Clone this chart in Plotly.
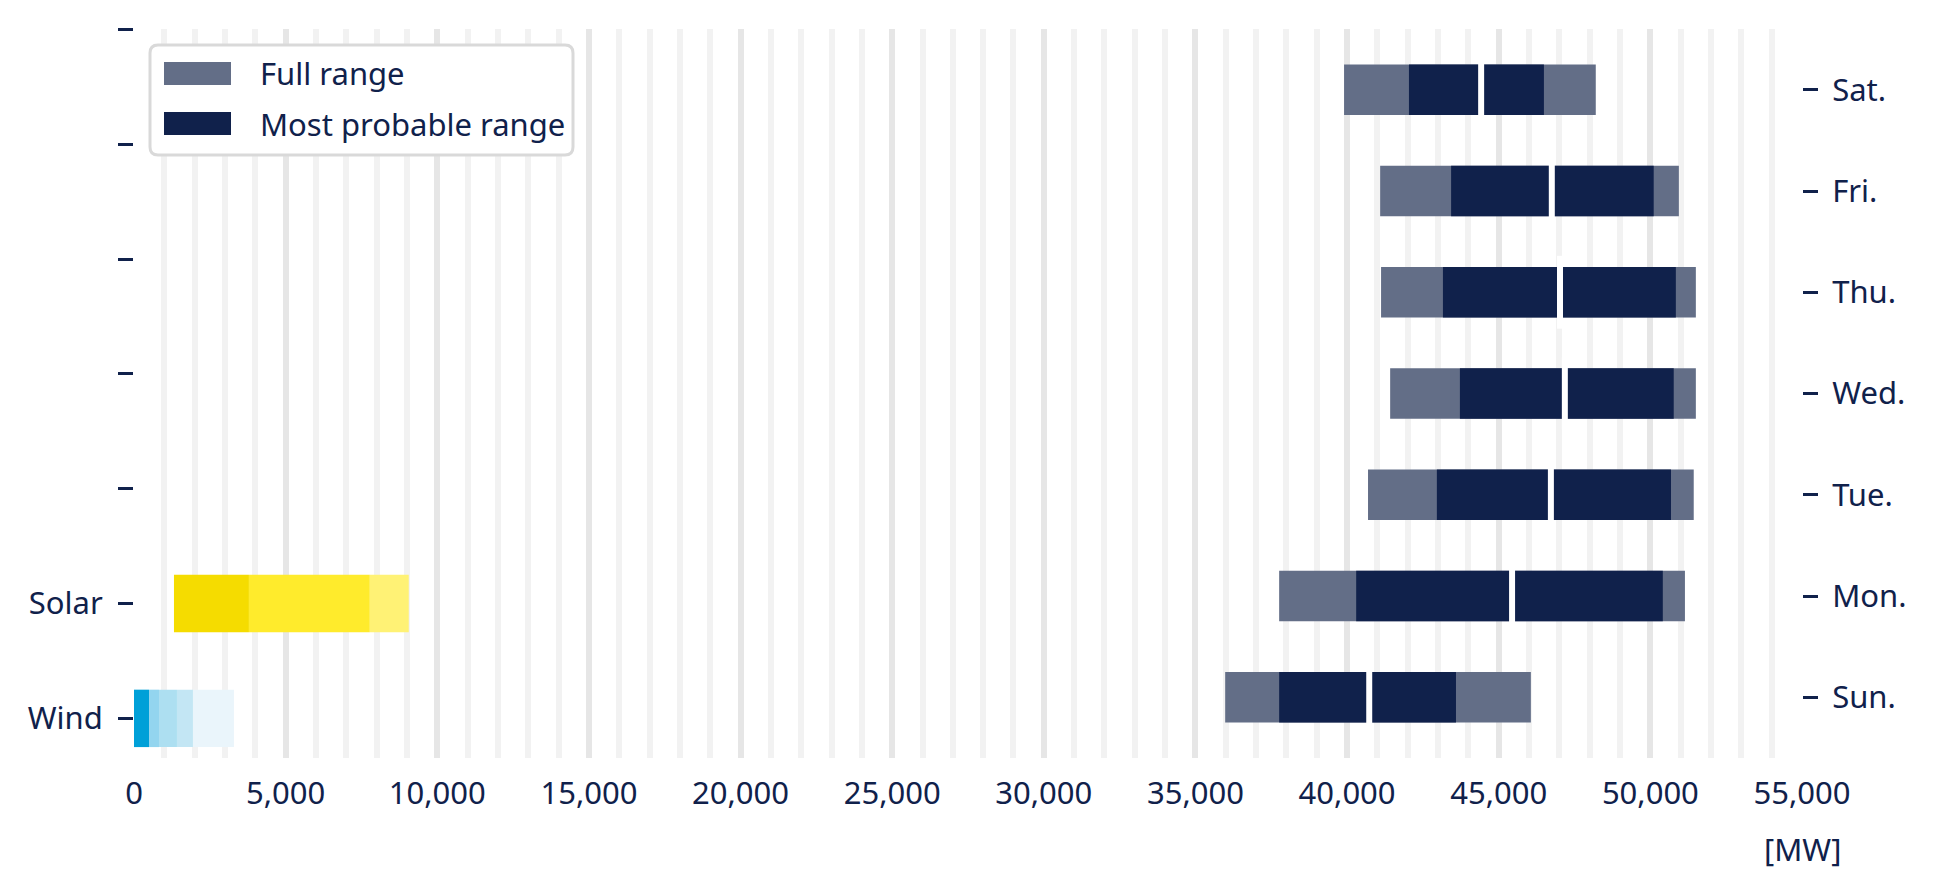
import plotly.graph_objects as go

# Forecast of the load per day [MW]
days = ["Sun.", "Mon.", "Tue.", "Wed.", "Thu.", "Fri.", "Sat."]
full_min = [35980, 37760, 40690, 41420, 41120, 41090, 39900]
full_max = [46060, 51140, 51430, 51500, 51500, 50940, 48200]
probable_min = [37760, 40300, 42960, 43720, 43160, 43430, 42040]
probable_max = [43590, 50410, 50680, 50770, 50840, 50110, 46490]
probable_mid = [40730, 45440, 46720, 47180, 47020, 46750, 44420]

# Renewables (left axis), band boundaries [MW]
sources = ["Wind", "Solar", "", "", "", "", ""]
wind_bounds = [0, 494, 824, 1417, 1944, 3295]
wind_colors = ["#00a0d8", "#93d5ef", "#addff1", "#c3e6f4", "#eaf5fb"]
solar_bounds = [1318, 3790, 7776, 9060]
solar_colors = ["#f5dc00", "#ffeb2c", "#fff275"]

legend_labels = ["Full range", "Most probable range"]

NAVY = "#10214b"
GRAY = "#636e87"
FONT = dict(family="Noto Sans", size=31, color=NAVY)

fig = go.Figure()

# Wind and solar bands
for idx, (bounds, colors) in enumerate([(wind_bounds, wind_colors),
                                        (solar_bounds, solar_colors)]):
    fig.add_trace(go.Bar(
        y=[idx] * len(colors),
        base=bounds[:-1],
        x=[b - a for a, b in zip(bounds[:-1], bounds[1:])],
        orientation="h",
        width=0.5,
        marker=dict(color=colors, line=dict(width=0)),
        showlegend=False,
        hoverinfo="skip",
    ))

# Load per day on the right axis
day_pos = list(range(len(days)))
fig.add_trace(go.Bar(
    name=legend_labels[0],
    y=day_pos,
    base=full_min,
    x=[b - a for a, b in zip(full_min, full_max)],
    orientation="h",
    width=0.5,
    marker=dict(color=GRAY, line=dict(width=0)),
    yaxis="y2",
    showlegend=False,
))
fig.add_trace(go.Bar(
    name=legend_labels[1],
    y=day_pos,
    base=probable_min,
    x=[b - a for a, b in zip(probable_min, probable_max)],
    orientation="h",
    width=0.5,
    marker=dict(color=NAVY, line=dict(width=0)),
    yaxis="y2",
    showlegend=False,
))
# white split at the most probable value
fig.add_trace(go.Scatter(
    x=probable_mid,
    y=day_pos,
    mode="markers",
    marker=dict(symbol="line-ns", size=52, color="white",
                line=dict(color="white", width=6)),
    yaxis="y2",
    showlegend=False,
    hoverinfo="skip",
))

# Hand-made legend box (plotly caps legend swatch sizes)
PW, PH = 1668.0, 729.0          # plot area size in px
bx0, bx1, by0, by1 = 16, 439, 16, 126   # box in px from plot top-left
r = 8


def px(x):
    return x / PW


def py(y):
    return 1 - y / PH


box_path = (
    f"M {px(bx0 + r)},{py(by0)} L {px(bx1 - r)},{py(by0)} "
    f"Q {px(bx1)},{py(by0)} {px(bx1)},{py(by0 + r)} "
    f"L {px(bx1)},{py(by1 - r)} Q {px(bx1)},{py(by1)} {px(bx1 - r)},{py(by1)} "
    f"L {px(bx0 + r)},{py(by1)} Q {px(bx0)},{py(by1)} {px(bx0)},{py(by1 - r)} "
    f"L {px(bx0)},{py(by0 + r)} Q {px(bx0)},{py(by0)} {px(bx0 + r)},{py(by0)} Z"
)
shapes = [dict(type="path", path=box_path, xref="paper", yref="paper",
               line=dict(color="#d9d9d9", width=3), fillcolor="white",
               layer="above")]
annotations = []
for i, (label, color) in enumerate(zip(legend_labels, [GRAY, NAVY])):
    cy = 44.5 + 50 * i
    shapes.append(dict(type="rect", xref="paper", yref="paper",
                       x0=px(30), x1=px(97), y0=py(cy - 11.5), y1=py(cy + 11.5),
                       fillcolor=color, line=dict(width=0), layer="above"))
    annotations.append(dict(text=label, x=px(124), y=py(cy), xref="paper",
                            yref="paper", xanchor="left", yanchor="middle",
                            showarrow=False, font=FONT))

annotations.append(dict(
    text="[MW]", x=55000, xref="x", y=-0.125, yref="paper",
    xanchor="center", yanchor="middle", showarrow=False, font=FONT,
))

fig.update_layout(
    width=1921,
    height=878,
    template="none",
    margin=dict(l=126, r=127, t=21, b=128, pad=0),
    barmode="overlay",
    plot_bgcolor="white",
    paper_bgcolor="white",
    font=FONT,
    showlegend=False,
    xaxis=dict(
        range=[0, 55000],
        dtick=5000,
        tickformat=",",
        showgrid=True,
        gridcolor="#e6e6e6",
        gridwidth=6,
        minor=dict(dtick=1000, showgrid=True, gridcolor="#f2f2f2", gridwidth=6),
        zeroline=False,
        showline=False,
        ticks="",
        automargin=False,
        ticklabelstandoff=14,
    ),
    yaxis=dict(
        range=[-0.345, 6.003],
        tickvals=list(range(len(sources))),
        ticktext=sources,
        ticks="outside",
        ticklen=15,
        tickwidth=3,
        tickcolor=NAVY,
        showgrid=False,
        zeroline=False,
        showline=False,
        automargin=False,
        ticklabelstandoff=9,
    ),
    yaxis2=dict(
        range=[-0.6, 6.6],
        overlaying="y",
        side="right",
        tickvals=day_pos,
        ticktext=days,
        ticks="outside",
        ticklen=15,
        tickwidth=3,
        tickcolor=NAVY,
        showgrid=False,
        zeroline=False,
        showline=False,
        automargin=False,
        ticklabelstandoff=8,
    ),
    shapes=shapes,
    annotations=annotations,
)

fig.write_html("out.html")
